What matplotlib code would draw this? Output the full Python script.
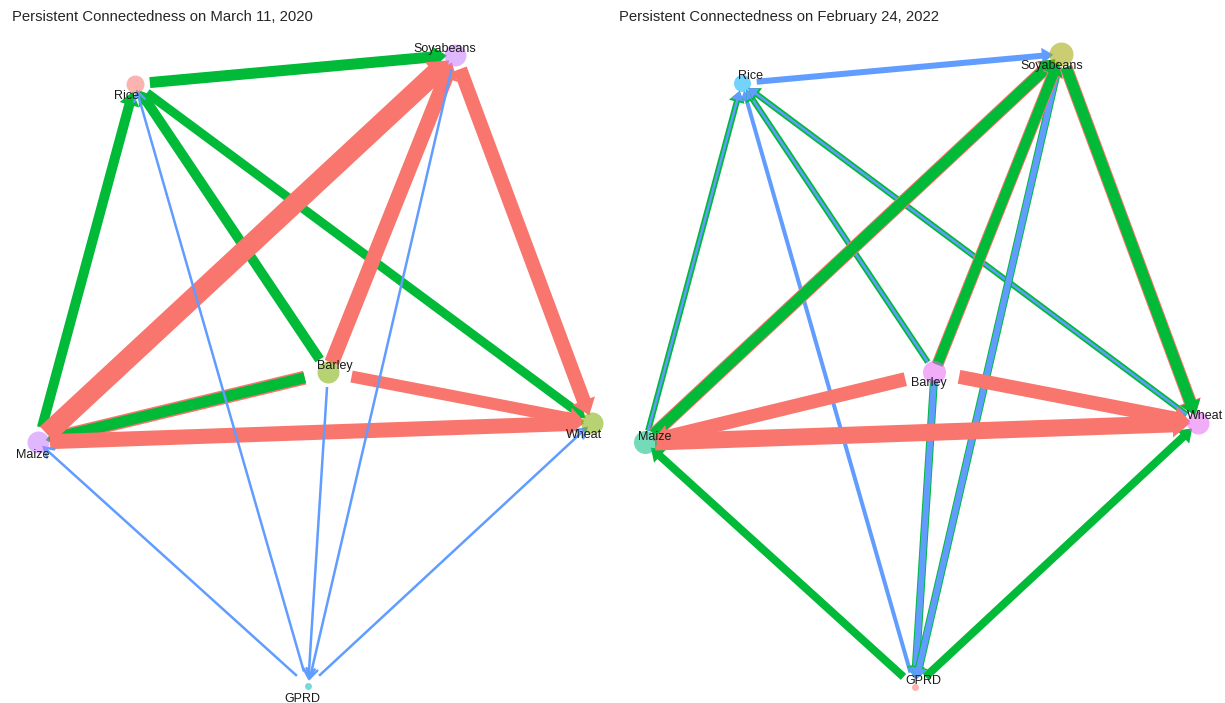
import numpy as np
import matplotlib
matplotlib.use("Agg")
import matplotlib.pyplot as plt

# Node layout shared by both networks (unit layout coordinates)
nodes = ["Rice", "Soyabeans", "Barley", "Maize", "Wheat", "GPRD"]
layout_x = [-0.650, 0.505, 0.047, -1.000, 1.000, -0.025]
layout_y = [0.908, 1.000, -0.005, -0.227, -0.166, -1.000]

GREEN, RED, BLUE = "#00BA38", "#F8766D", "#619CFF"

# ---- March 11, 2020 ----
title_2020 = "Persistent Connectedness on March 11, 2020"
node_size_2020 = [9, 11, 11, 11, 11, 3.5]
node_col_2020 = ["#F8766D", "#C77CFF", "#7CAE00", "#C77CFF", "#7CAE00", "#00BFC4"]
edge_src_2020 = ["GPRD", "GPRD", "GPRD", "Barley", "Soyabeans",
                 "Rice", "Maize", "Barley", "Rice",
                 "Barley", "Barley",
                 "Maize", "Barley", "Soyabeans", "Maize", "Barley"]
edge_dst_2020 = ["Rice", "Maize", "Wheat", "GPRD", "GPRD",
                 "Soyabeans", "Rice", "Rice", "Wheat",
                 "Maize", "Maize",
                 "Soyabeans", "Soyabeans", "Wheat", "Wheat", "Wheat"]
edge_w_2020 = [2.5, 2.5, 2.5, 2.5, 2.5,
               11, 10, 10, 9,
               14, 11,
               20, 15, 14, 15, 12]
edge_col_2020 = [BLUE, BLUE, BLUE, BLUE, BLUE,
                 GREEN, GREEN, GREEN, GREEN,
                 RED, GREEN,
                 RED, RED, RED, RED, RED]
gap_2020 = [15, 15, 15, 15, 15,
            15, 15, 15, 15,
            24, 24,
            12, 10, 15, 12, 24]
label_off_2020 = [(-6, -8.6), (-7, 4.4), (5, 4.4), (-4, -9.4), (-6, -8.6), (-4, -9.4)]
xlim_2020, ylim_2020 = (-1.137, 1.074), (-1.054, 1.174)

# ---- February 24, 2022 ----
title_2022 = "Persistent Connectedness on February 24, 2022"
node_size_2022 = [8.5, 12, 11.5, 11.5, 11, 3.5]
node_col_2022 = ["#00B0F6", "#A3A500", "#E76BF3", "#00BF7D", "#E76BF3", "#F8766D"]
edge_src_2022 = ["Rice", "GPRD",
                 "Maize", "Maize", "Barley", "Barley", "Wheat", "Wheat",
                 "Barley", "Barley", "Soyabeans", "Soyabeans",
                 "GPRD", "GPRD",
                 "Maize", "Maize", "Barley", "Barley", "Soyabeans", "Soyabeans",
                 "Barley", "Barley", "Maize"]
edge_dst_2022 = ["Soyabeans", "Rice",
                 "Rice", "Rice", "Rice", "Rice", "Rice", "Rice",
                 "GPRD", "GPRD", "GPRD", "GPRD",
                 "Maize", "Wheat",
                 "Soyabeans", "Soyabeans", "Soyabeans", "Soyabeans", "Wheat", "Wheat",
                 "Maize", "Wheat", "Wheat"]
edge_w_2022 = [6, 4,
               6, 2.5, 6, 2.5, 6, 2.5,
               8, 6, 8, 6,
               8, 8,
               13, 11, 12, 10, 13, 11,
               14, 14, 17]
edge_col_2022 = [BLUE, BLUE,
                 GREEN, BLUE, GREEN, BLUE, GREEN, BLUE,
                 GREEN, BLUE, GREEN, BLUE,
                 GREEN, GREEN,
                 RED, GREEN, RED, GREEN, RED, GREEN,
                 RED, RED, RED]
gap_2022 = [15, 15,
            12, 12, 12, 12, 14, 14,
            8, 8, 14, 14,
            15, 15,
            12, 12, 8, 8, 14, 14,
            30, 25, 10]
label_off_2022 = [(6, 4.8), (-7, -8.4), (-4, -8.0), (7, 3.6), (5, 4.8), (6, 4.6)]
xlim_2022, ylim_2022 = (-1.1175, 1.0976), (-1.0506, 1.1706)


def draw_edge(ax, p0, p1, w, color, open_head, cap0, cap1=8.0):
    T = ax.transData
    a, b = T.transform([p0, p1])
    d = b - a
    u = d / np.hypot(*d)
    n = np.array([-u[1], u[0]])
    s = a + u * cap0
    tip = b - u * cap1
    inv = T.inverted()
    if open_head:
        hl, hw = 9.0, 11.0
        base = tip - u * hl
        shaft = inv.transform([s, tip])
        chev = inv.transform([base + n * hw / 2, tip, base - n * hw / 2])
        lw = w * 0.72
        ax.plot(shaft[:, 0], shaft[:, 1], color=color, lw=lw, solid_capstyle="butt")
        ax.plot(chev[:, 0], chev[:, 1], color=color, lw=lw,
                solid_capstyle="round", solid_joinstyle="miter")
        return
    hl = 0.55 * w + 8.0
    hw = w + 10.0
    base = tip - u * hl
    pts = [s + n * w / 2, base + n * w / 2, base + n * hw / 2, tip,
           base - n * hw / 2, base - n * w / 2, s - n * w / 2]
    poly = inv.transform(pts)
    ax.fill(poly[:, 0], poly[:, 1], color=color, lw=0)


def draw_network(ax, xlim, ylim, title, title_x, sizes, colors, src, dst,
                 widths, cols, gaps, offs, open_thin):
    ax.set_xlim(*xlim)
    ax.set_ylim(*ylim)
    ax.axis("off")
    pos = {nm: (x, y) for nm, x, y in zip(nodes, layout_x, layout_y)}
    for s, t, w, c, g in zip(src, dst, widths, cols, gaps):
        draw_edge(ax, pos[s], pos[t], w, c, open_head=(open_thin and w < 3), cap0=g)
    for nm, r, c, off in zip(nodes, sizes, colors, offs):
        x, y = pos[nm]
        ax.scatter([x], [y], s=(2 * r * 0.72) ** 2, color=c, alpha=0.55,
                   linewidths=0, zorder=5)
        ax.annotate(nm, (x, y), xytext=off, textcoords="offset points",
                    ha="center", va="center", fontsize=9, color="#1a1a1a",
                    family="Liberation Sans", zorder=6)
    ax.text(title_x, 0.976, title, transform=ax.transAxes, fontsize=10.7,
            color="#262626", family="Liberation Sans", ha="left", va="center")


fig = plt.figure(figsize=(12.25, 7.03), dpi=100)
ax1 = fig.add_axes([0.0, 0.0, 0.5, 1.0])
ax2 = fig.add_axes([0.5, 0.0, 0.5, 1.0])

draw_network(ax1, xlim_2020, ylim_2020, title_2020, 0.0196, node_size_2020,
             node_col_2020, edge_src_2020, edge_dst_2020, edge_w_2020,
             edge_col_2020, gap_2020, label_off_2020, True)
draw_network(ax2, xlim_2022, ylim_2022, title_2022, 0.0106, node_size_2022,
             node_col_2022, edge_src_2022, edge_dst_2022, edge_w_2022,
             edge_col_2022, gap_2022, label_off_2022, False)

fig.savefig("out.png", dpi=100, facecolor="white")
